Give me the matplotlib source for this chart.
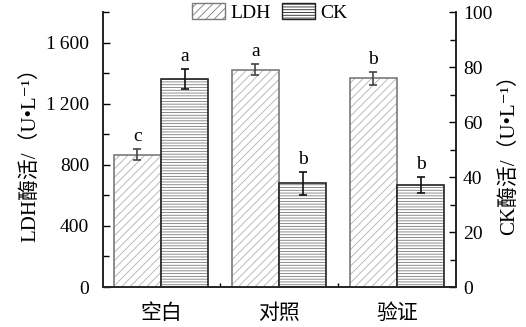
import matplotlib
matplotlib.use("Agg")
import matplotlib.pyplot as plt
import numpy as np
from matplotlib.ticker import MultipleLocator, FixedLocator, FuncFormatter
from matplotlib.patches import Patch

categories = ["空白", "对照", "验证"]
ldh_values = [867, 1424, 1367]
ldh_errors = [37, 35, 42]
ck_values = [75.6, 37.7, 37.0]
ck_errors = [3.6, 4.2, 2.9]
ldh_letters = ["c", "a", "b"]
ck_letters = ["a", "b", "b"]

FAM = ['Liberation Serif', 'Noto Sans CJK SC', 'DejaVu Sans']
plt.rcParams['font.family'] = FAM
plt.rcParams['hatch.linewidth'] = 0.6

fig = plt.figure(figsize=(5.26, 3.27), dpi=100)
ax = fig.add_axes([0.196, 0.1223, 0.671, 0.8407])
ax2 = ax.twinx()

x = np.arange(len(categories))
w = 0.4
ldh_edge = '#7a7a7a'
ldh_hatch = '#b0b0b0'
ck_edge = '#222222'
ck_hatch = '#7a7a7a'

# LDH bars (left axis)
ax.bar(x - w/2, ldh_values, w, color='white', edgecolor=ldh_hatch, hatch='////', linewidth=0, zorder=2)
ax.bar(x - w/2, ldh_values, w, fill=False, edgecolor=ldh_edge, linewidth=1.2, zorder=3)
ax.errorbar(x - w/2, ldh_values, yerr=ldh_errors, fmt='none', ecolor='#444444', elinewidth=1.2, capsize=3, capthick=1.2, zorder=4)
for xi, v, e, t in zip(x - w/2, ldh_values, ldh_errors, ldh_letters):
    ax.text(xi, v + e + 25, t, ha='center', va='bottom', fontsize=14, family='Liberation Serif')

# CK bars (right axis)
ax2.bar(x + w/2, ck_values, w, color='white', edgecolor=ck_hatch, hatch='------', linewidth=0, zorder=2)
ax2.bar(x + w/2, ck_values, w, fill=False, edgecolor=ck_edge, linewidth=1.2, zorder=3)
ax2.errorbar(x + w/2, ck_values, yerr=ck_errors, fmt='none', ecolor='#111111', elinewidth=1.2, capsize=3, capthick=1.2, zorder=4)
for xi, v, e, t in zip(x + w/2, ck_values, ck_errors, ck_letters):
    ax2.text(xi, v + e + 1.4, t, ha='center', va='bottom', fontsize=14, family='Liberation Serif')

ax.set_xlim(-0.49, 2.5)
ax.set_ylim(0, 1800)
ax2.set_ylim(0, 100)

def thou(v, p):
    v = int(round(v))
    if v >= 1000:
        return f"{v//1000}\u2009{v%1000:03d}"
    return str(v)

ax.yaxis.set_major_locator(MultipleLocator(400))
ax.yaxis.set_minor_locator(MultipleLocator(200))
ax.yaxis.set_major_formatter(FuncFormatter(thou))
ax2.yaxis.set_major_locator(MultipleLocator(20))
ax2.yaxis.set_minor_locator(MultipleLocator(10))

ax.xaxis.set_major_locator(FixedLocator([0.5, 1.5]))
ax.xaxis.set_major_formatter(FuncFormatter(lambda v, p: ""))
ax.set_xticks(list(x), categories, minor=True)
ax.tick_params(axis='x', which='major', direction='in', length=3, width=1)
ax.tick_params(axis='x', which='minor', length=0, pad=11, labelsize=15)
for lab in ax.get_xticklabels(minor=True):
    lab.set_family(['Noto Sans CJK SC'])

ax.tick_params(axis='y', which='major', direction='in', length=5, width=1, labelsize=14, pad=10)
ax.tick_params(axis='y', which='minor', direction='in', length=4, width=1)
ax2.tick_params(axis='y', which='major', direction='in', length=5, width=1, labelsize=14, pad=5)
ax2.tick_params(axis='y', which='minor', direction='in', length=4, width=1)

for a in (ax, ax2):
    a.spines['top'].set_visible(False)
    for s in ('left', 'right', 'bottom'):
        a.spines[s].set_linewidth(1.2)
        a.spines[s].set_color('#222222')

ax.set_ylabel("LDH酶活/（U•L⁻¹）", fontsize=15, family=FAM, labelpad=4)
ax2.set_ylabel("CK酶活/（U•L⁻¹）", fontsize=15, family=FAM, rotation=90, labelpad=5)

handles = [Patch(facecolor='white', edgecolor=ldh_edge, hatch='////', linewidth=1.0, label='LDH'),
           Patch(facecolor='white', edgecolor=ck_edge, hatch='------', linewidth=1.0, label='CK')]
fig.legend(handles=handles, loc='center', bbox_to_anchor=(0.513, 0.962), ncol=2, frameon=False,
           fontsize=14, handlelength=1.7, handleheight=0.85, handletextpad=0.25, columnspacing=0.6,
           borderpad=0.1)

fig.savefig("out.png", dpi=100)
